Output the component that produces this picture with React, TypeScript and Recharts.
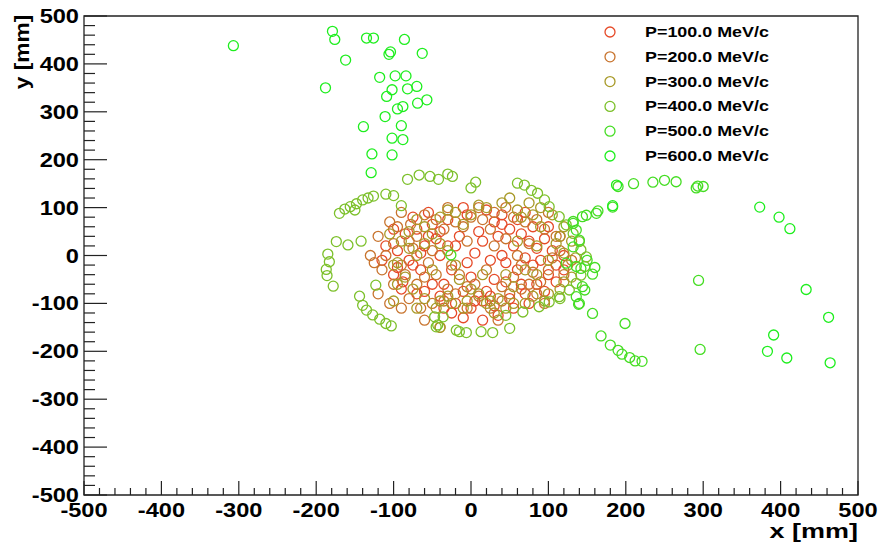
import { ScatterChart, Scatter, XAxis, YAxis, ReferenceArea, Legend } from "recharts";

// hit positions (x, y) in mm
const P100: [number, number][] = [
  [-85, 45], [-70, 55], [-60, 20], [-95, 10], [-80, -10], [-65, -30], [-100, -40], [-50, -60], [-40, -85], [-20, -100],
  [0, -110], [15, -95], [30, -105], [50, -90], [70, -80], [85, -60], [100, -40], [110, -20], [105, 10], [95, 35],
  [80, 60], [60, 75], [40, 85], [20, 95], [-5, 85], [-30, 75], [-50, 65], [-15, 40], [10, 50], [35, 40],
  [55, 20], [70, -5], [60, -30], [30, -50], [0, -45], [-25, -30], [-40, 0], [-20, 20], [5, 5], [25, -10],
  [45, -15], [-110, 20], [-75, 80], [-55, 90], [65, 45], [90, -10], [120, 0], [75, -100], [-10, -130], [15, -135],
  [-35, -110], [-70, -80], [-90, -70], [115, 40], [40, 65], [-45, 35], [20, -75], [50, 55], [-5, -15], [85, 15],
  [-100, 55], [-88, -55], [-75, -20], [-55, 40], [-35, -60], [-10, -75], [5, -95], [25, -85], [45, -55], [65, -60],
  [80, -20], [95, -75], [110, -55], [100, 60], [70, 90], [30, 70], [-10, 100], [-40, 50], [-60, -75], [-25, -120],
  [35, -125], [55, -110], [-115, -10], [-95, -25], [75, 30], [120, -30], [-30, 20], [15, 30], [40, 0], [-65, 5],
];

const P200: [number, number][] = [
  [-125, -15], [-120, 40], [-105, 70], [-90, 90], [-60, 85], [-30, 100], [-10, 60], [15, 75], [45, 100], [70, 70],
  [95, 55], [105, -5], [90, -55], [65, -70], [40, -95], [10, -85], [-20, -80], [-50, -100], [-80, -90], [-100, -60],
  [-115, -30], [-75, 15], [-55, -15], [-35, 55], [-5, 30], [30, 20], [55, -45], [75, 25], [-85, -40], [-45, -40],
  [5, -60], [80, -35], [-95, 60], [-130, 0], [120, -40], [-65, -110], [-40, -150], [-30, -70], [25, 55], [-15, -40],
  [60, 0], [40, -65], [-105, -100], [100, 90], [-120, -80], [-70, 40], [10, 100], [-50, 10], [85, -80], [-60, -135],
  [-110, 0], [-100, 25], [-78, 65], [-45, 75], [-20, 70], [0, 80], [30, 90], [55, 80], [85, 75], [110, 40],
  [115, 10], [100, -30], [75, -60], [50, -80], [25, -110], [-5, -110], [-35, -95], [-70, -60], [-90, -20], [-60, -45],
  [-25, -20], [20, -30], [45, 35], [65, -20], [-80, 30], [-5, -65], [35, -135], [95, -100], [-90, -110], [130, -10],
];

const P300: [number, number][] = [
  [-90, 30], [-80, 50], [-60, 60], [-40, 80], [-20, 90], [0, 85], [20, 100], [40, 110], [60, 95], [75, 110],
  [90, 100], [105, 85], [120, 60], [130, 30], [125, -20], [130, -45], [115, -70], [95, -95], [70, -100], [45, -110],
  [20, -100], [-5, -95], [-25, -100], [-45, -110], [-60, -90], [-75, -70], [-85, -45], [-95, -15], [-70, 0], [-50, -30],
  [-60, 25], [-30, 10], [-15, -50], [10, -80], [35, -90], [55, -65], [85, -40], [100, -10], [110, 25], [90, 60],
  [65, 80], [-50, 45], [-30, -85], [0, -70], [25, -95], [-100, -95], [-40, -150], [100, -80], [120, 5], [-10, 65],
  [-105, 45], [-70, 75], [-30, 95], [10, 105], [50, 120], [80, 85], [115, 40], [135, -5], [120, -55], [80, -85],
  [55, -100], [30, -120], [-10, -110], [-40, -95], [-70, -110], [-95, -60], [-100, -20], [-80, 15], [-40, 25], [-20, -20],
  [15, -40], [45, -40], [70, -30], [85, 20], [60, 30],
];

const P400: [number, number][] = [
  [-170, 88], [-163, 97], [-156, 102], [-148, 108], [-140, 116], [-126, 124], [-110, 128], [-90, 104], [-174, 29], [-159, 22],
  [-142, 30], [-185, 3], [-183, -13], [-187, -29], [-186, -42], [-178, -64], [-144, -85], [-140, -104], [-135, -114], [-127, -124],
  [-118, -133], [-110, -142], [-103, -147], [-123, -62], [-45, -149], [-15, -159], [-6, -161], [-36, -128], [-82, 159], [-67, 168],
  [-53, 165], [-42, 159], [-30, 170], [-24, 165], [6, 153], [0, 141], [60, 151], [69, 147], [78, 136], [86, 130],
  [95, 116], [101, 102], [114, 81], [123, 64], [132, 46], [140, 29], [142, 12], [149, -3], [147, -23], [142, -41],
  [136, -58], [127, -72], [114, -86], [101, -97], [88, -107], [67, -118], [50, -152], [28, -161], [13, -159], [-19, -156],
  [-43, -145], [-47, -128], [-150, 95], [-133, 120], [-100, 125], [115, -90], [45, -125],
];

const P500: [number, number][] = [
  [190, 144], [210, 150], [235, 153], [250, 157], [265, 154], [183, 101], [164, 93], [149, 84], [132, 71], [144, 81],
  [162, 88], [139, -102], [147, -72], [157, -39], [136, -86], [157, -121], [168, -168], [180, -187], [190, -198], [195, -206],
  [205, -213], [212, -220], [221, -221], [199, -142], [132, 67], [123, -16], [136, -23], [142, -27], [144, -65], [140, -100],
  [132, 18], [140, 32], [136, 53], [-26, 1], [291, 141], [293, 145], [300, 144], [294, -52], [296, -196], [150, -10],
  [160, -25],
];

const P600: [number, number][] = [
  [-307, 438], [-179, 468], [-176, 451], [-135, 454], [-126, 454], [-86, 451], [-104, 425], [-106, 420], [-63, 422], [-162, 408],
  [-118, 372], [-98, 375], [-84, 375], [-188, 350], [-102, 346], [-82, 348], [-70, 353], [-109, 332], [-95, 306], [-88, 311],
  [-69, 318], [-57, 325], [-111, 290], [-139, 269], [-90, 271], [-102, 245], [-88, 242], [-128, 212], [-102, 210], [-129, 173],
  [373, 101], [398, 80], [412, 56], [433, -71], [462, -129], [391, -166], [383, -200], [408, -214], [464, -224], [183, 104],
  [188, 147],
];

const NAMES = ["P=100.0 MeV/c", "P=200.0 MeV/c", "P=300.0 MeV/c", "P=400.0 MeV/c", "P=500.0 MeV/c", "P=600.0 MeV/c"];
const COLORS = ["#e64a28", "#c8742e", "#a89a28", "#7cc02a", "#44dd22", "#1eee1e"];
const POINTS = [P100, P200, P300, P400, P500, P600];

const MAJOR_TICKS = [-500, -400, -300, -200, -100, 0, 100, 200, 300, 400, 500];
const TICKS: number[] = [];
for (let v = -500; v <= 500; v += 20) TICKS.push(v);

const FONT = "'Liberation Sans', Arial, sans-serif";
const AXIS = "#222";

function XTick(props: any) {
  const { x, y, payload } = props;
  const major = MAJOR_TICKS.includes(payload.value);
  return (
    <g>
      <line x1={x} x2={x} y1={y} y2={y - (major ? 14 : 7)} stroke={AXIS} strokeWidth={1.2} />
      {major && (
        <text transform={`translate(${x},${y + 21.5}) scale(1.18,1)`} textAnchor="middle"
          fontFamily={FONT} fontWeight="bold" fontSize={20} fill="#000">
          {payload.value}
        </text>
      )}
    </g>
  );
}

function YTick(props: any) {
  const { x, y, payload } = props;
  const major = MAJOR_TICKS.includes(payload.value);
  return (
    <g>
      <line x1={x} x2={x + (major ? 23 : 11)} y1={y} y2={y} stroke={AXIS} strokeWidth={1.2} />
      {major && (
        <text transform={`translate(${x - 5},${y + 7}) scale(1.18,1)`} textAnchor="end"
          fontFamily={FONT} fontWeight="bold" fontSize={20} fill="#000">
          {payload.value}
        </text>
      )}
    </g>
  );
}

function LegendBox() {
  return (
    <svg width={260} height={150}>
      {NAMES.map((name, i) => (
        <g key={name}>
          <circle cx={15} cy={14 + i * 24.8} r={5} fill="none" stroke={COLORS[i]} strokeWidth={1.3} />
          <text transform={`translate(50,${19 + i * 24.8}) scale(1.28,1)`} fontFamily={FONT}
            fontWeight="bold" fontSize={14} fill="#000">
            {name}
          </text>
        </g>
      ))}
    </svg>
  );
}

export default function App() {
  return (
    <div style={{ position: "absolute", left: 0, top: 0, width: 881, height: 545, background: "#fff" }}>
      <ScatterChart width={881} height={545} margin={{ top: 16, right: 23, bottom: 0, left: 0 }}>
        <XAxis type="number" dataKey="x" domain={[-500, 500]} ticks={TICKS} interval={0} allowDataOverflow
          height={50} tickSize={0} tickMargin={0} axisLine={false} tickLine={false} tick={<XTick />} />
        <YAxis type="number" dataKey="y" domain={[-500, 500]} ticks={TICKS} interval={0} allowDataOverflow
          width={84} tickSize={0} tickMargin={0} axisLine={false} tickLine={false} tick={<YTick />} />
        <ReferenceArea x1={-500} x2={500} y1={-500} y2={500} fill="none" stroke={AXIS} strokeWidth={1.3} />
        {POINTS.map((pts, i) => (
          <Scatter key={NAMES[i]} name={NAMES[i]} data={pts.map(([x, y]) => ({ x, y }))}
            isAnimationActive={false}
            shape={(p: any) => (
              <circle cx={p.cx} cy={p.cy} r={5} fill="none" stroke={COLORS[i]} strokeWidth={1.3} />
            )} />
        ))}
        <Legend layout="vertical" align="center" verticalAlign="middle"
          wrapperStyle={{ position: "absolute", left: 595, top: 18, width: 260, height: 150 }}
          content={() => <LegendBox />} />
      </ScatterChart>
      <svg width={881} height={545} style={{ position: "absolute", left: 0, top: 0, pointerEvents: "none" }}>
        <text transform="translate(858,538) scale(1.35,1)" textAnchor="end" fontFamily={FONT}
          fontWeight="bold" fontSize={20} fill="#000">
          x [mm]
        </text>
        <text transform="translate(29,52) rotate(-90) scale(1.14,1)" textAnchor="middle" fontFamily={FONT}
          fontWeight="bold" fontSize={20} fill="#000">
          y [mm]
        </text>
      </svg>
    </div>
  );
}
